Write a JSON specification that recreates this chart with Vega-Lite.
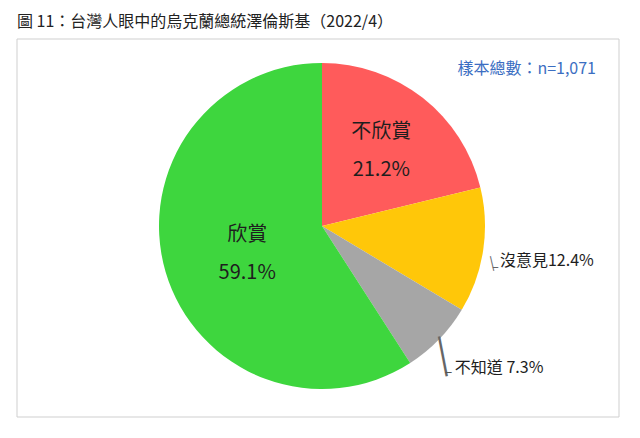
{
  "$schema": "https://vega.github.io/schema/vega-lite/v6.json",
  "width": 602,
  "height": 378,
  "autosize": {"type": "none"},
  "padding": {"left": 17, "top": 39, "right": 21, "bottom": 21},
  "background": "white",
  "title": {
    "text": "圖 11：台灣人眼中的烏克蘭總統澤倫斯基（2022/4）",
    "anchor": "start",
    "frame": "group",
    "font": "Noto Sans CJK TC",
    "fontSize": 16,
    "fontWeight": "normal",
    "color": "#222222",
    "offset": 9
  },
  "config": {"view": {"stroke": null}},
  "data": {
    "values": [
      {"cat": "不欣賞", "pct": 21.2, "ord": 1, "label": "不欣賞\n21.2%", "outer": "", "bar": "", "foot": ""},
      {"cat": "沒意見", "pct": 12.4, "ord": 2, "label": "", "outer": "沒意見12.4%", "bar": "|", "foot": "–"},
      {"cat": "不知道", "pct": 7.3, "ord": 3, "label": "", "outer": "不知道 7.3%", "bar": "|", "foot": "–"},
      {"cat": "欣賞", "pct": 59.1, "ord": 4, "label": "欣賞\n59.1%", "outer": "", "bar": "", "foot": ""}
    ]
  },
  "layer": [
    {
      "data": {"values": [{"box": 1}]},
      "mark": {"type": "rect", "x": 0, "x2": "width", "y": 0, "y2": "height", "xOffset": 3, "yOffset": 3, "fill": "#9d9d9d"},
      "encoding": {}
    },
    {
      "data": {"values": [{"box": 1}]},
      "mark": {"type": "rect", "x": 0, "x2": "width", "y": 0, "y2": "height", "fill": "white", "stroke": "#cfcfcf", "strokeWidth": 1},
      "encoding": {}
    },
    {
      "mark": {"type": "arc", "outerRadius": 163, "xOffset": 4, "yOffset": -2},
      "encoding": {
        "theta": {"field": "pct", "type": "quantitative", "stack": true},
        "order": {"field": "ord", "type": "quantitative"},
        "color": {
          "field": "cat",
          "type": "nominal",
          "scale": {
            "domain": ["不欣賞", "沒意見", "不知道", "欣賞"],
            "range": ["#ff5b5b", "#ffc709", "#a6a6a6", "#3ed63e"]
          },
          "legend": null
        }
      }
    },
    {
      "mark": {
        "type": "text",
        "font": "Noto Sans CJK TC",
        "fontSize": 20,
        "lineBreak": "\n",
        "lineHeight": 38,
        "color": "#1e1e1e",
        "align": "center",
        "baseline": "middle",
        "xOffset": 4,
        "yOffset": -2,
        "radius": {"expr": "datum.ord == 1 ? 96 : 78"},
        "dy": {"expr": "datum.ord == 1 ? -19 : -13"}
      },
      "encoding": {
        "theta": {"field": "pct", "type": "quantitative", "stack": true},
        "order": {"field": "ord", "type": "quantitative"},
        "text": {"field": "label"}
      }
    },
    {
      "mark": {
        "type": "text",
        "font": "Noto Sans CJK TC",
        "fontSize": 16,
        "color": "#1e1e1e",
        "align": "left",
        "baseline": "middle",
        "xOffset": 4,
        "yOffset": -2,
        "radius": {"expr": "datum.ord == 2 ? 180 : 185"},
        "dy": {"expr": "datum.ord == 2 ? 8 : 13"}
      },
      "encoding": {
        "theta": {"field": "pct", "type": "quantitative", "stack": true},
        "order": {"field": "ord", "type": "quantitative"},
        "text": {"field": "outer"}
      }
    },
    {
      "mark": {
        "type": "text",
        "font": "Roboto",
        "fontWeight": 300,
        "color": "#666666",
        "align": "center",
        "baseline": "middle",
        "xOffset": 4,
        "yOffset": -2,
        "radius": {"expr": "datum.ord == 2 ? 171.4 : 166.4"},
        "dx": {"expr": "datum.ord == 2 ? -2 : -1.5"},
        "dy": {"expr": "datum.ord == 2 ? 11.75 : 14.5"},
        "angle": {"expr": "datum.ord == 2 ? 347 : 349"}
      },
      "encoding": {
        "theta": {"field": "pct", "type": "quantitative", "stack": true},
        "order": {"field": "ord", "type": "quantitative"},
        "text": {"field": "bar"},
        "size": {"condition": {"test": "datum.ord == 2", "value": 18}, "value": 48}
      }
    },
    {
      "mark": {
        "type": "text",
        "font": "Roboto",
        "color": "#555555",
        "align": "center",
        "baseline": "middle",
        "xOffset": 4,
        "yOffset": -2,
        "radius": {"expr": "datum.ord == 2 ? 175.5 : 176.2"},
        "dy": {"expr": "datum.ord == 2 ? 15.6 : 24.4"}
      },
      "encoding": {
        "theta": {"field": "pct", "type": "quantitative", "stack": true},
        "order": {"field": "ord", "type": "quantitative"},
        "text": {"field": "foot"},
        "size": {"condition": {"test": "datum.ord == 2", "value": 11}, "value": 13}
      }
    },
    {
      "data": {"values": [{"note": "樣本總數：n=1,071"}]},
      "mark": {
        "type": "text",
        "font": "Noto Sans CJK TC",
        "fontSize": 16,
        "color": "#3b6ec2",
        "align": "right",
        "baseline": "middle",
        "x": {"expr": "width - 23"},
        "y": 30
      },
      "encoding": {"text": {"field": "note"}}
    }
  ]
}
